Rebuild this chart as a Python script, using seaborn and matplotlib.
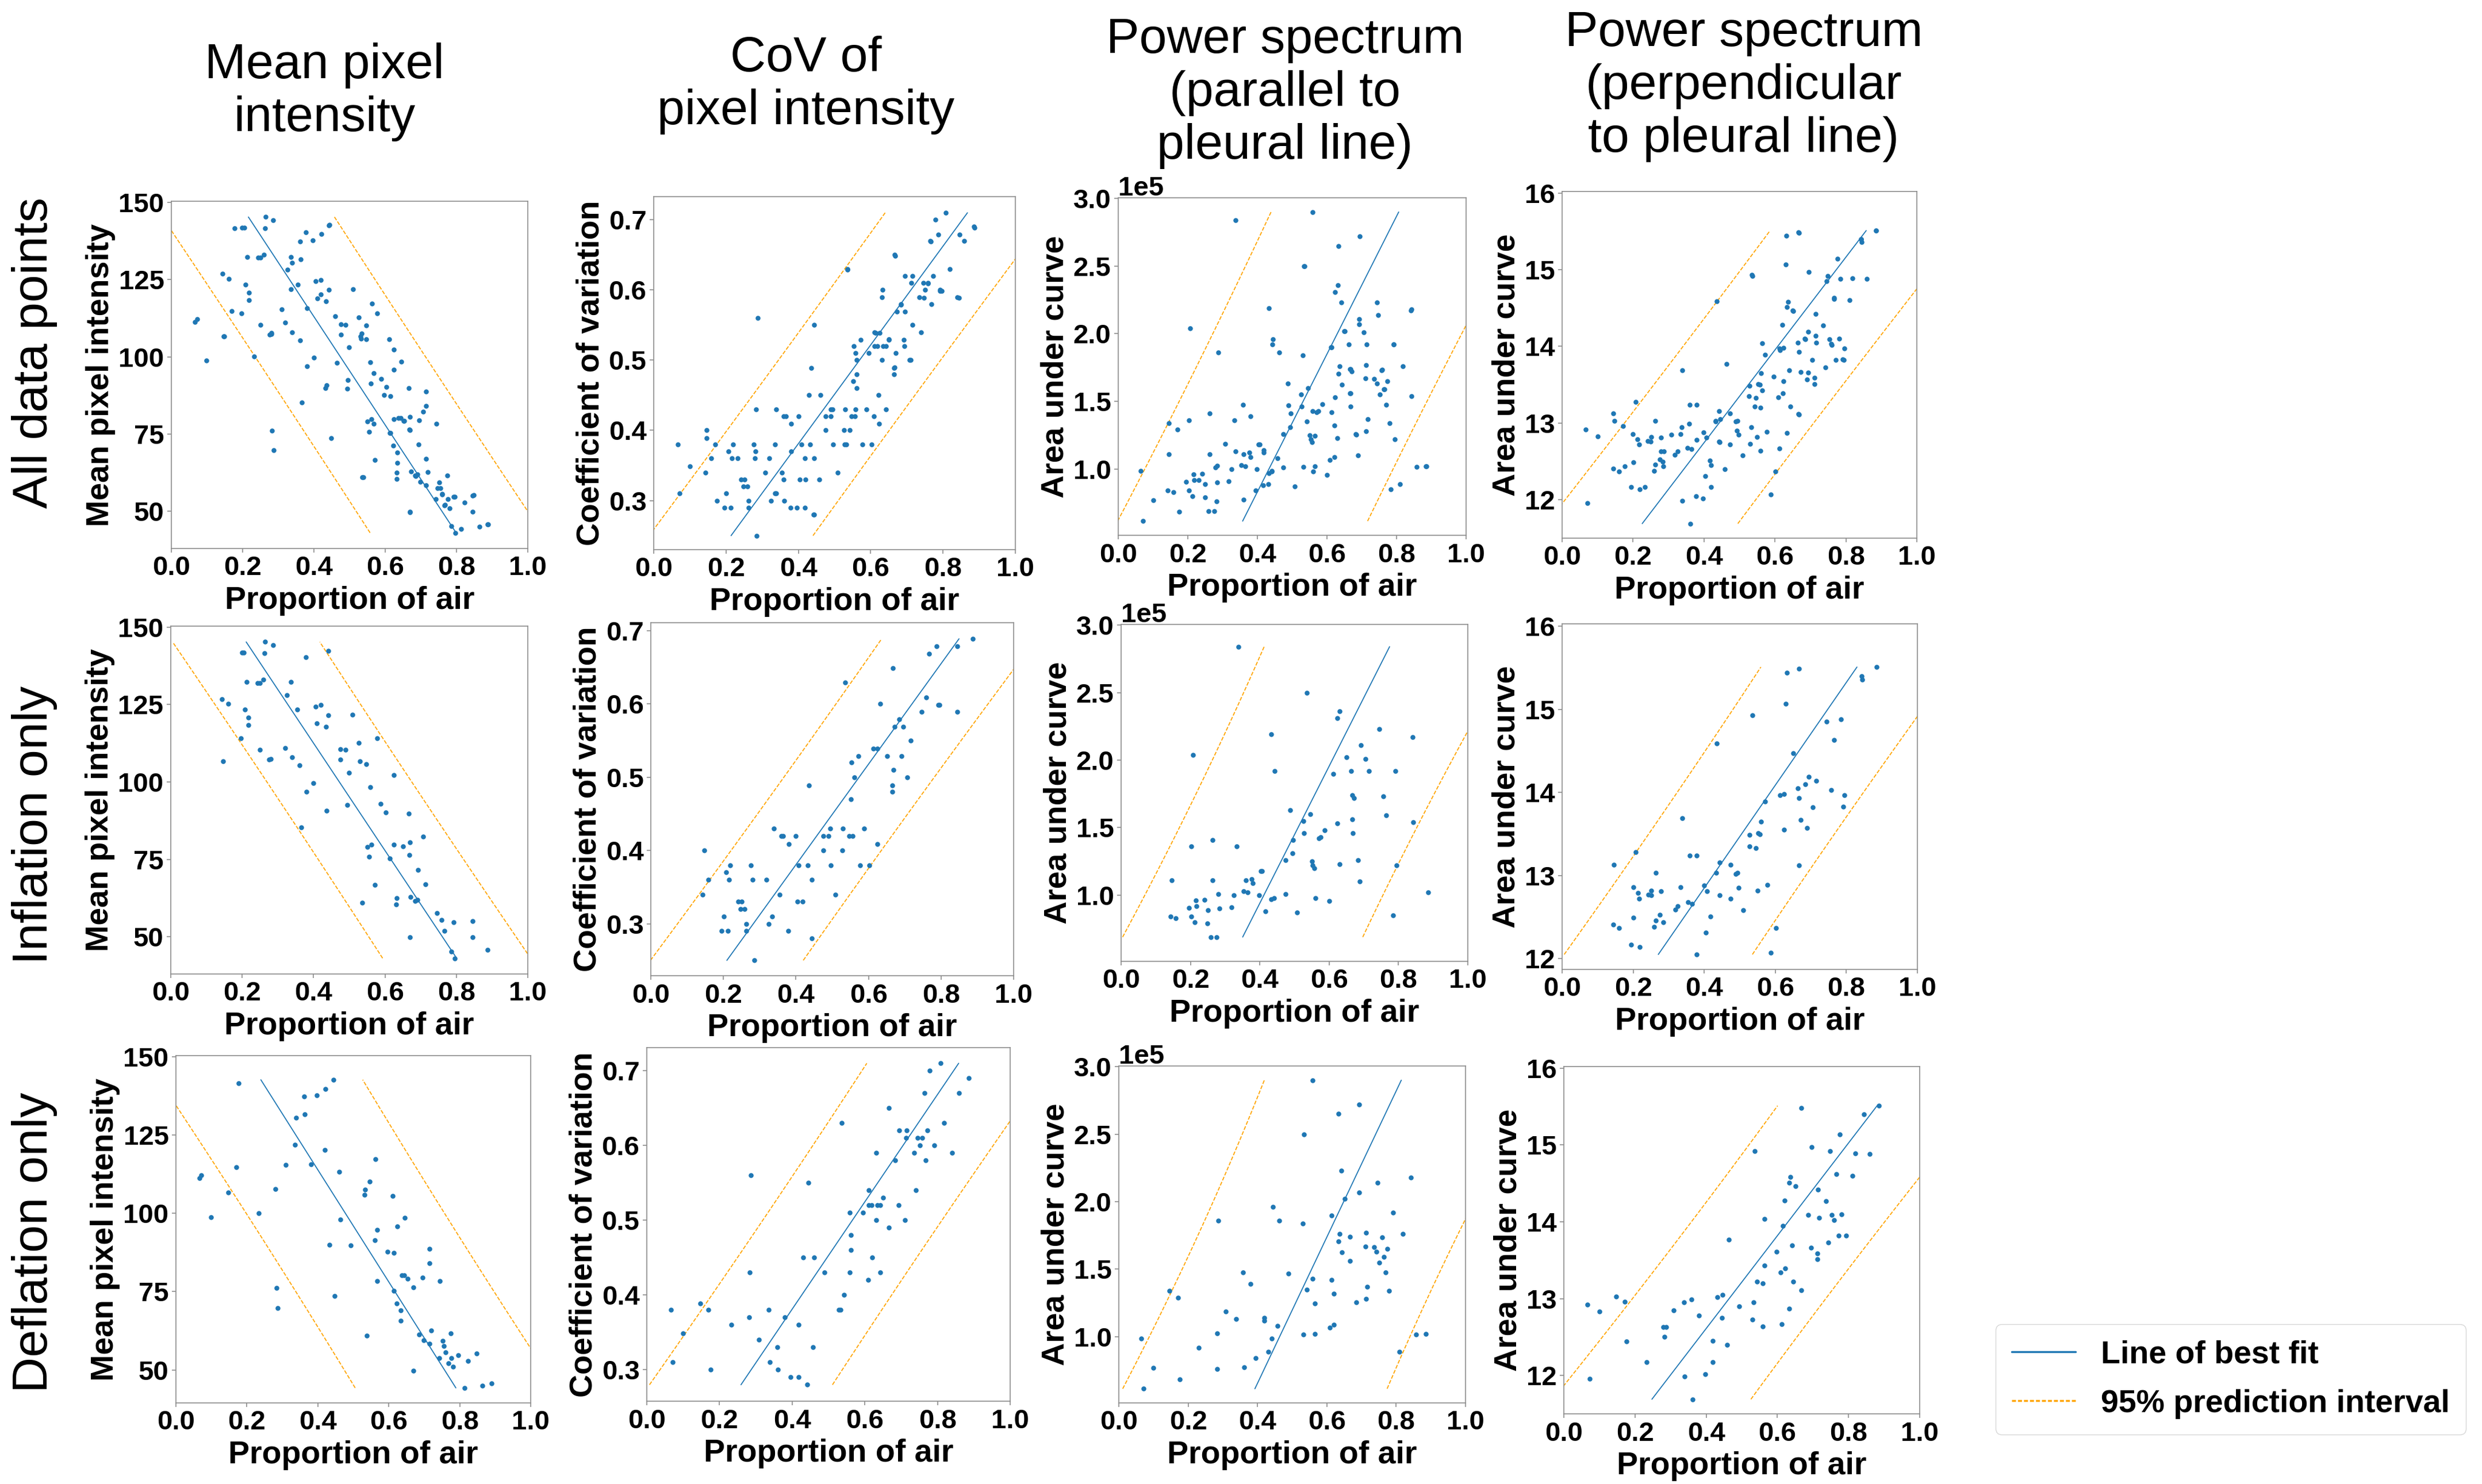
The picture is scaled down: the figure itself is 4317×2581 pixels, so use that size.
import numpy as np
import matplotlib
matplotlib.use("Agg")
import matplotlib.pyplot as plt
from matplotlib.lines import Line2D
import seaborn as sns


# points, (proportion of air, feature value)
# inflation subset
infl_mean = [
    (0.264, 145.2), (0.286, 144.1), (0.199, 141.8), (0.205, 141.8), (0.263, 141.6),
    (0.442, 142.4), (0.378, 140.2), (0.213, 132.3), (0.243, 132.0), (0.250, 132.0),
    (0.259, 133.0), (0.336, 132.3), (0.326, 128.1), (0.143, 126.8), (0.161, 125.2),
    (0.208, 123.4), (0.355, 123.4), (0.405, 124.4), (0.420, 124.9), (0.442, 121.6),
    (0.509, 121.8), (0.218, 120.8), (0.217, 118.4), (0.409, 118.9), (0.434, 117.9),
    (0.197, 114.1), (0.578, 114.1), (0.526, 112.7), (0.250, 110.4), (0.320, 111.0),
    (0.475, 110.6), (0.489, 110.4), (0.147, 106.7), (0.275, 107.2), (0.280, 107.4),
    (0.339, 108.0), (0.475, 107.2), (0.530, 106.6), (0.547, 105.7), (0.361, 105.3),
    (0.499, 103.0), (0.624, 102.3), (0.400, 99.7), (0.558, 98.3), (0.380, 96.9),
    (0.588, 92.9), (0.495, 92.5), (0.436, 90.8), (0.603, 90.2), (0.666, 89.8),
    (0.366, 85.3), (0.707, 82.3), (0.670, 80.5), (0.624, 79.8), (0.562, 79.8),
    (0.550, 79.1), (0.651, 79.2), (0.668, 76.4), (0.555, 75.8), (0.613, 75.4),
    (0.693, 71.6), (0.714, 67.0), (0.571, 66.7), (0.633, 62.5), (0.672, 62.9),
    (0.684, 61.6), (0.691, 61.9), (0.632, 60.5), (0.536, 61.1), (0.746, 57.6),
    (0.759, 55.5), (0.792, 54.7), (0.845, 55.1), (0.766, 52.0), (0.670, 49.9),
    (0.845, 49.9), (0.887, 45.8), (0.786, 45.2), (0.796, 43.1),
]
infl_cov = [
    (0.887, 0.689), (0.787, 0.679), (0.845, 0.679), (0.767, 0.669), (0.667, 0.649),
    (0.536, 0.629), (0.632, 0.600), (0.759, 0.609), (0.792, 0.599), (0.796, 0.599),
    (0.747, 0.589), (0.844, 0.589), (0.684, 0.579), (0.672, 0.569), (0.695, 0.569),
    (0.716, 0.550), (0.613, 0.539), (0.625, 0.539), (0.572, 0.529), (0.651, 0.529),
    (0.691, 0.529), (0.553, 0.520), (0.669, 0.510), (0.561, 0.500), (0.707, 0.500),
    (0.436, 0.489), (0.665, 0.489), (0.665, 0.480), (0.551, 0.470), (0.339, 0.430),
    (0.495, 0.430), (0.529, 0.430), (0.588, 0.430), (0.359, 0.420), (0.365, 0.420),
    (0.400, 0.420), (0.475, 0.420), (0.489, 0.420), (0.547, 0.420), (0.557, 0.420),
    (0.380, 0.409), (0.624, 0.409), (0.147, 0.400), (0.475, 0.400), (0.527, 0.400),
    (0.219, 0.380), (0.276, 0.380), (0.408, 0.380), (0.433, 0.380), (0.496, 0.380),
    (0.577, 0.380), (0.603, 0.380), (0.207, 0.370), (0.159, 0.360), (0.216, 0.360),
    (0.280, 0.360), (0.319, 0.360), (0.443, 0.360), (0.143, 0.340), (0.355, 0.340),
    (0.509, 0.340), (0.241, 0.330), (0.251, 0.330), (0.404, 0.330), (0.419, 0.330),
    (0.248, 0.320), (0.259, 0.320), (0.201, 0.310), (0.335, 0.310), (0.263, 0.300),
    (0.325, 0.300), (0.195, 0.290), (0.213, 0.290), (0.263, 0.290), (0.379, 0.290),
    (0.443, 0.280), (0.285, 0.250),
]
# area under curve in units of 1e5
infl_par = [
    (0.338, 2.84), (0.536, 2.50), (0.631, 2.36), (0.623, 2.31), (0.744, 2.23),
    (0.433, 2.19), (0.841, 2.17), (0.692, 2.11), (0.207, 2.04), (0.650, 2.02),
    (0.705, 2.01), (0.443, 1.92), (0.663, 1.92), (0.714, 1.92), (0.791, 1.92),
    (0.612, 1.90), (0.666, 1.74), (0.671, 1.72), (0.757, 1.73), (0.487, 1.63),
    (0.545, 1.60), (0.764, 1.59), (0.525, 1.55), (0.666, 1.56), (0.623, 1.53),
    (0.843, 1.54), (0.587, 1.48), (0.528, 1.46), (0.668, 1.46), (0.571, 1.42),
    (0.576, 1.43), (0.263, 1.41), (0.496, 1.41), (0.203, 1.36), (0.334, 1.36),
    (0.494, 1.31), (0.474, 1.26), (0.550, 1.25), (0.553, 1.22), (0.557, 1.20),
    (0.630, 1.23), (0.683, 1.26), (0.403, 1.18), (0.407, 1.18), (0.795, 1.22),
    (0.146, 1.11), (0.263, 1.11), (0.360, 1.11), (0.377, 1.12), (0.380, 1.09),
    (0.689, 1.10), (0.353, 1.03), (0.365, 1.02), (0.280, 1.01), (0.325, 1.00),
    (0.398, 1.00), (0.474, 1.01), (0.885, 1.02), (0.433, 0.97), (0.441, 0.98),
    (0.561, 0.98), (0.600, 0.955), (0.216, 0.96), (0.241, 0.965), (0.218, 0.92),
    (0.195, 0.905), (0.250, 0.89), (0.284, 0.90), (0.318, 0.91), (0.416, 0.88),
    (0.507, 0.87), (0.142, 0.84), (0.158, 0.83), (0.203, 0.84), (0.784, 0.85),
    (0.213, 0.80), (0.249, 0.79), (0.259, 0.69), (0.276, 0.69),
]
infl_perp = [
    (0.885, 15.51), (0.666, 15.49), (0.632, 15.44), (0.843, 15.40), (0.844, 15.36),
    (0.630, 15.07), (0.535, 14.93), (0.785, 14.88), (0.745, 14.85), (0.766, 14.63),
    (0.436, 14.59), (0.650, 14.47), (0.694, 14.19), (0.715, 14.14), (0.684, 14.10),
    (0.664, 14.05), (0.758, 14.03), (0.613, 13.97), (0.624, 13.98), (0.795, 13.97),
    (0.667, 13.93), (0.572, 13.89), (0.705, 13.82), (0.791, 13.83), (0.338, 13.69),
    (0.560, 13.65), (0.672, 13.67), (0.624, 13.55), (0.690, 13.57), (0.528, 13.49),
    (0.552, 13.51), (0.557, 13.50), (0.527, 13.35), (0.546, 13.33), (0.207, 13.28),
    (0.359, 13.24), (0.379, 13.24), (0.145, 13.13), (0.443, 13.16), (0.474, 13.13),
    (0.666, 13.12), (0.263, 13.03), (0.433, 13.03), (0.489, 13.02), (0.494, 13.03),
    (0.200, 12.86), (0.334, 12.86), (0.399, 12.88), (0.577, 12.89), (0.497, 12.85),
    (0.213, 12.79), (0.242, 12.77), (0.250, 12.76), (0.251, 12.82), (0.217, 12.72),
    (0.279, 12.81), (0.407, 12.81), (0.550, 12.82), (0.443, 12.76), (0.474, 12.72),
    (0.354, 12.68), (0.365, 12.66), (0.325, 12.63), (0.318, 12.59), (0.509, 12.58),
    (0.275, 12.53), (0.201, 12.49), (0.263, 12.46), (0.285, 12.44), (0.417, 12.51),
    (0.144, 12.41), (0.160, 12.37), (0.259, 12.38), (0.602, 12.37), (0.404, 12.31),
    (0.194, 12.17), (0.218, 12.14), (0.378, 12.05), (0.588, 12.07),
]

# deflation subset
defl_mean = [
    (0.177, 141.5), (0.444, 142.6), (0.421, 139.7), (0.362, 137.3), (0.397, 137.7),
    (0.339, 130.4), (0.363, 131.6), (0.336, 121.8), (0.420, 120.2), (0.563, 117.2),
    (0.170, 114.7), (0.309, 115.4), (0.381, 115.7), (0.066, 111.3), (0.072, 112.1),
    (0.460, 113.2), (0.547, 110.1), (0.281, 107.8), (0.148, 106.6), (0.534, 107.5),
    (0.532, 105.9), (0.611, 105.6), (0.233, 100.1), (0.099, 98.8), (0.464, 98.1),
    (0.645, 98.5), (0.624, 95.9), (0.567, 94.8), (0.560, 91.4), (0.433, 89.9),
    (0.493, 89.7), (0.714, 88.7), (0.597, 87.7), (0.615, 87.3), (0.715, 84.1),
    (0.637, 80.2), (0.644, 80.2), (0.653, 79.2), (0.695, 79.4), (0.567, 78.4),
    (0.744, 78.4), (0.669, 76.3), (0.283, 76.1), (0.615, 75.3), (0.448, 73.7),
    (0.623, 71.3), (0.287, 69.8), (0.634, 69.0), (0.634, 65.7), (0.719, 62.7),
    (0.538, 61.0), (0.686, 61.4), (0.774, 61.7), (0.698, 59.5), (0.715, 58.4),
    (0.752, 59.3), (0.755, 57.6), (0.760, 55.6), (0.795, 54.8), (0.848, 55.2),
    (0.742, 53.9), (0.776, 53.9), (0.823, 52.9), (0.768, 52.1), (0.781, 51.1),
    (0.670, 49.8), (0.813, 44.3), (0.864, 45.0), (0.889, 45.8),
]
defl_cov = [
    (0.808, 0.710), (0.779, 0.700), (0.886, 0.690), (0.764, 0.670), (0.859, 0.670),
    (0.666, 0.650), (0.536, 0.630), (0.818, 0.630), (0.694, 0.620), (0.715, 0.620),
    (0.772, 0.620), (0.713, 0.610), (0.746, 0.610), (0.758, 0.610), (0.751, 0.600),
    (0.791, 0.600), (0.631, 0.590), (0.735, 0.590), (0.840, 0.590), (0.683, 0.580),
    (0.768, 0.580), (0.287, 0.560), (0.444, 0.550), (0.611, 0.540), (0.740, 0.540),
    (0.650, 0.530), (0.611, 0.520), (0.619, 0.520), (0.635, 0.520), (0.642, 0.520),
    (0.693, 0.520), (0.558, 0.510), (0.595, 0.510), (0.631, 0.500), (0.711, 0.500),
    (0.666, 0.490), (0.562, 0.480), (0.562, 0.460), (0.430, 0.450), (0.461, 0.450),
    (0.621, 0.450), (0.283, 0.430), (0.489, 0.430), (0.558, 0.430), (0.642, 0.430),
    (0.609, 0.420), (0.542, 0.400), (0.147, 0.389), (0.066, 0.380), (0.170, 0.380),
    (0.336, 0.380), (0.528, 0.380), (0.533, 0.380), (0.281, 0.370), (0.380, 0.370),
    (0.232, 0.360), (0.418, 0.360), (0.100, 0.349), (0.308, 0.340), (0.359, 0.330),
    (0.458, 0.330), (0.071, 0.310), (0.339, 0.310), (0.175, 0.300), (0.361, 0.300),
    (0.396, 0.290), (0.418, 0.290), (0.442, 0.280),
]
defl_par = [
    (0.559, 2.90), (0.694, 2.72), (0.633, 2.65), (0.534, 2.50), (0.641, 2.23),
    (0.843, 2.18), (0.747, 2.14), (0.693, 2.07), (0.651, 2.02), (0.444, 1.96),
    (0.791, 1.92), (0.613, 1.90), (0.287, 1.86), (0.462, 1.86), (0.530, 1.84),
    (0.713, 1.77), (0.637, 1.76), (0.667, 1.74), (0.819, 1.76), (0.759, 1.735),
    (0.633, 1.705), (0.711, 1.67), (0.736, 1.665), (0.743, 1.63), (0.774, 1.65),
    (0.643, 1.625), (0.765, 1.59), (0.667, 1.56), (0.752, 1.55), (0.359, 1.475),
    (0.490, 1.47), (0.770, 1.475), (0.559, 1.43), (0.613, 1.42), (0.380, 1.39),
    (0.717, 1.37), (0.542, 1.35), (0.146, 1.34), (0.780, 1.34), (0.621, 1.32),
    (0.170, 1.29), (0.713, 1.28), (0.685, 1.255), (0.565, 1.245), (0.308, 1.185),
    (0.338, 1.13), (0.419, 1.14), (0.419, 1.12), (0.458, 1.08), (0.608, 1.066),
    (0.621, 1.09), (0.284, 1.025), (0.532, 1.015), (0.565, 1.02), (0.858, 1.015),
    (0.886, 1.02), (0.065, 0.985), (0.441, 0.985), (0.231, 0.92), (0.810, 0.89),
    (0.431, 0.89), (0.395, 0.84), (0.100, 0.77), (0.283, 0.76), (0.361, 0.775),
    (0.175, 0.685), (0.071, 0.615),
]
defl_perp = [
    (0.885, 15.51), (0.667, 15.48), (0.843, 15.40), (0.776, 15.14), (0.696, 14.97),
    (0.537, 14.92), (0.748, 14.92), (0.819, 14.89), (0.859, 14.88), (0.766, 14.62),
    (0.811, 14.60), (0.637, 14.58), (0.633, 14.51), (0.651, 14.46), (0.714, 14.42),
    (0.736, 14.27), (0.621, 14.28), (0.686, 14.09), (0.753, 14.09), (0.781, 14.10),
    (0.717, 14.05), (0.760, 14.02), (0.564, 14.04), (0.615, 13.95), (0.772, 13.82),
    (0.794, 13.82), (0.463, 13.77), (0.743, 13.73), (0.641, 13.69), (0.694, 13.66),
    (0.597, 13.61), (0.712, 13.59), (0.712, 13.51), (0.564, 13.43), (0.622, 13.39),
    (0.609, 13.34), (0.543, 13.22), (0.559, 13.20), (0.644, 13.22), (0.667, 13.11),
    (0.147, 13.03), (0.432, 13.02), (0.446, 13.05), (0.358, 12.99), (0.171, 12.96),
    (0.067, 12.92), (0.337, 12.95), (0.533, 12.95), (0.492, 12.90), (0.633, 12.87),
    (0.100, 12.83), (0.308, 12.85), (0.380, 12.78), (0.444, 12.75), (0.530, 12.73),
    (0.613, 12.67), (0.559, 12.64), (0.279, 12.63), (0.287, 12.63), (0.283, 12.50),
    (0.176, 12.44), (0.419, 12.45), (0.459, 12.40), (0.233, 12.17), (0.419, 12.17),
    (0.339, 11.99), (0.397, 12.02), (0.072, 11.96), (0.362, 11.69),
]

col_titles = ["Mean pixel\nintensity", "CoV of\npixel intensity",
              "Power spectrum\n(parallel to\npleural line)",
              "Power spectrum\n(perpendicular\nto pleural line)"]
row_titles = ["All data points", "Inflation only", "Deflation only"]
y_labels = ["Mean pixel intensity", "Coefficient of variation",
            "Area under curve", "Area under curve"]
y_scale = [1, 1, 1e5, 1]
y_ticks = [[50, 75, 100, 125, 150], [0.3, 0.4, 0.5, 0.6, 0.7],
           [1.0, 1.5, 2.0, 2.5, 3.0], [12, 13, 14, 15, 16]]
x_ticks = [0.0, 0.2, 0.4, 0.6, 0.8, 1.0]

# y limits per row / column (col 3 in units of 1e5)
y_lims = [
    [(38, 150.3), (0.230, 0.733), (0.51, 3.005), (11.5, 16.02)],
    [(38, 150.3), (0.229, 0.711), (0.51, 3.005), (11.87, 16.03)],
    [(39.5, 150.3), (0.258, 0.731), (0.51, 3.005), (11.5, 16.02)],
]

# axes boxes in pixels: left, top, right, bottom
W, H = 4317, 2581
boxes = [
    [(298, 350, 918, 954), (1137, 342, 1766, 956), (1945, 344, 2550, 931), (2717, 333, 3334, 936)],
    [(297, 1089, 918, 1694), (1132, 1083, 1763, 1697), (1950, 1086, 2553, 1672), (2717, 1085, 3335, 1686)],
    [(306, 1836, 923, 2440), (1125, 1822, 1757, 2437), (1946, 1854, 2549, 2440), (2720, 1855, 3339, 2459)],
]
title_pos = [(564, 160), (1402, 148), (2235, 162), (3033, 150)]
row_pos = [(60, 614), (60, 1435), (60, 2161)]

BLUE = "#1f77b4"
ORANGE = "#ffa500"


def fit_lines(x, y):
    # proportion of air regressed on the feature, drawn over the feature range
    b, a = np.polyfit(y, x, 1)
    yy = np.linspace(y.min(), y.max(), 100)
    xx = a + b * yy
    n = len(x)
    resid = x - (a + b * y)
    s = np.sqrt(np.sum(resid ** 2) / (n - 2))
    half = 1.96 * s * np.sqrt(1 + 1 / n + (yy - y.mean()) ** 2 / np.sum((y - y.mean()) ** 2))
    return yy, xx, xx - half, xx + half


sns.set_style("ticks")
plt.rcParams["font.family"] = ["Liberation Sans", "DejaVu Sans"]
plt.rcParams["font.weight"] = "bold"
plt.rcParams["axes.labelweight"] = "bold"
plt.rcParams["axes.edgecolor"] = "0.55"
plt.rcParams["axes.linewidth"] = 1.2
plt.rcParams["text.color"] = "black"
plt.rcParams["axes.labelcolor"] = "black"

infl = [infl_mean, infl_cov, infl_par, infl_perp]
defl = [defl_mean, defl_cov, defl_par, defl_perp]
rows = [[i + d for i, d in zip(infl, defl)], infl, defl]

fig = plt.figure(figsize=(W / 100, H / 100), dpi=100)

for r, panels in enumerate(rows):
    for c, pts in enumerate(panels):
        l, t, rr, b = boxes[r][c]
        ax = fig.add_axes([l / W, 1 - b / H, (rr - l) / W, (b - t) / H])
        arr = np.array(pts)
        xs = arr[:, 0]
        ys = arr[:, 1] * y_scale[c]

        sns.scatterplot(x=xs, y=ys, ax=ax, color=BLUE, s=38, linewidth=0, zorder=3)
        yy, xx, lo, hi = fit_lines(xs, ys)
        ax.plot(xx, yy, color=BLUE, lw=1.3)
        ax.plot(lo, yy, color=ORANGE, lw=1.3, ls="--")
        ax.plot(hi, yy, color=ORANGE, lw=1.3, ls="--")

        ax.set_xlim(0, 1)
        lo_y, hi_y = y_lims[r][c]
        ax.set_ylim(lo_y * y_scale[c], hi_y * y_scale[c])
        ax.set_xticks(x_ticks)
        ax.set_yticks([v * y_scale[c] for v in y_ticks[c]])
        if c == 2:
            ax.ticklabel_format(axis="y", style="sci", scilimits=(0, 0))
            ax.yaxis.get_offset_text().set_fontsize(34)
            ax.yaxis.get_offset_text().set_fontweight("bold")
        ax.tick_params(axis="both", labelsize=34, length=5, width=1.2,
                       color="0.55", labelcolor="black", pad=4)
        ax.set_xlabel("Proportion of air", fontsize=40, labelpad=6)
        ax.set_ylabel(y_labels[c], fontsize=40, labelpad=4)

for c, txt in enumerate(col_titles):
    x, y = title_pos[c]
    fig.text(x / W, 1 - y / H, txt, ha="center", va="center", fontsize=62,
             fontweight="normal", linespacing=1.2)

for r, txt in enumerate(row_titles):
    x, y = row_pos[r]
    fig.text(x / W, 1 - y / H, txt, ha="center", va="center", fontsize=62,
             fontweight="normal", rotation=90)

handles = [Line2D([], [], color=BLUE, lw=2.5),
           Line2D([], [], color=ORANGE, lw=2.5, dashes=(2, 1))]
fig.legend(handles, ["Line of best fit", "95% prediction interval"],
           loc="center", bbox_to_anchor=(3880 / W, 1 - 2399 / H),
           prop={"size": 40, "weight": "bold"}, frameon=True, edgecolor="0.8",
           fancybox=True, handlelength=2.0, borderpad=0.5, labelspacing=0.6)

fig.savefig("out.png", dpi=100)
